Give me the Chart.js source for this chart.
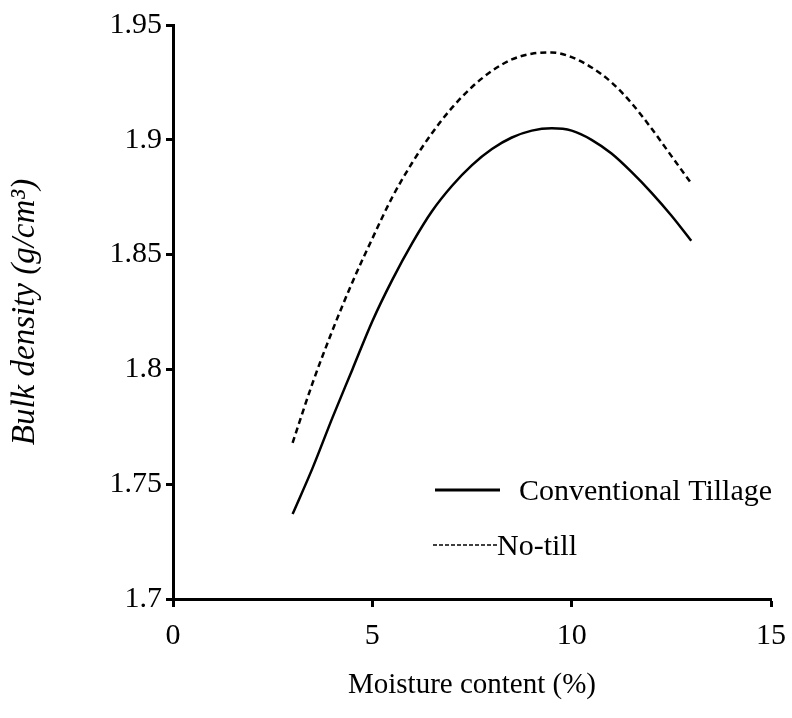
<!DOCTYPE html>
<html>
<head>
<meta charset="utf-8">
<script src="https://cdn.jsdelivr.net/npm/chart.js@4/dist/chart.umd.min.js"></script>
<style>
  html, body { margin: 0; padding: 0; background: #fff; }
  #wrap { width: 792px; height: 718px; }
</style>
</head>
<body>
<div id="wrap"><canvas id="c" width="792" height="718"></canvas></div>
<script>
const moisture = [3, 3.5, 4, 4.5, 5, 5.5, 6, 6.5, 7, 7.5, 8, 8.5, 9, 9.5, 10, 10.5, 11, 11.5, 12, 12.5, 13];
const conventionalTillage = [1.737, 1.757, 1.779, 1.800, 1.821, 1.839, 1.855, 1.869, 1.880, 1.889, 1.896, 1.901, 1.904, 1.905, 1.904, 1.900, 1.894, 1.886, 1.877, 1.867, 1.856];
const noTill = [1.768, 1.794, 1.817, 1.838, 1.857, 1.875, 1.890, 1.903, 1.914, 1.923, 1.930, 1.935, 1.9375, 1.938, 1.936, 1.9315, 1.925, 1.916, 1.905, 1.893, 1.881];
const xTicks = [0, 5, 10, 15];
const yTicks = [1.7, 1.75, 1.8, 1.85, 1.9, 1.95];
const seriesNames = ['Conventional Tillage', 'No-till'];

const SERIF = "'Liberation Serif', 'Times New Roman', Times, serif";

const legendPlugin = {
  id: 'customLegend',
  afterDraw(chart) {
    const ctx = chart.ctx;
    ctx.save();
    ctx.strokeStyle = '#000';
    ctx.lineWidth = 3;
    ctx.setLineDash([]);
    ctx.beginPath(); ctx.moveTo(435, 490); ctx.lineTo(500, 490); ctx.stroke();
    ctx.lineWidth = 1.3;
    ctx.setLineDash([4, 2]);
    ctx.beginPath(); ctx.moveTo(433, 545); ctx.lineTo(497, 545); ctx.stroke();
    ctx.setLineDash([]);
    ctx.fillStyle = '#000';
    ctx.font = '30px ' + SERIF;
    ctx.textBaseline = 'alphabetic';
    ctx.textAlign = 'left';
    ctx.fillText(seriesNames[0], 519, 500);
    ctx.fillText(seriesNames[1], 497, 555);
    ctx.restore();
  }
};

new Chart(document.getElementById('c'), {
  type: 'line',
  data: {
    datasets: [
      {
        label: seriesNames[0],
        data: moisture.map((m, i) => ({ x: m, y: conventionalTillage[i] })),
        borderColor: '#000',
        borderWidth: 2.5,
        pointRadius: 0,
        cubicInterpolationMode: 'monotone',
        fill: false
      },
      {
        label: seriesNames[1],
        data: moisture.map((m, i) => ({ x: m, y: noTill[i] })),
        borderColor: '#000',
        borderWidth: 2.5,
        borderDash: [6, 4],
        pointRadius: 0,
        cubicInterpolationMode: 'monotone',
        fill: false
      }
    ]
  },
  options: {
    responsive: false,
    animation: false,
    layout: { padding: { top: 25, right: 21, left: 0, bottom: 0 } },
    plugins: { legend: { display: false }, tooltip: { enabled: false } },
    scales: {
      x: {
        type: 'linear',
        min: 0, max: 15,
        afterBuildTicks: s => { s.ticks = xTicks.map(v => ({ value: v })); },
        afterFit: s => { s.height = 119; s.paddingLeft = 0; s.paddingRight = 0; },
        border: { color: '#000', width: 3 },
        grid: { display: true, drawOnChartArea: false, drawTicks: true, tickLength: 8, tickColor: '#000', tickWidth: 3 },
        ticks: { color: '#000', font: { family: SERIF, size: 30 }, padding: 11, maxRotation: 0 },
        title: { display: true, text: 'Moisture content (%)', color: '#000', font: { family: SERIF, size: 29 }, padding: { top: 0, bottom: 15 } }
      },
      y: {
        type: 'linear',
        min: 1.7, max: 1.95,
        afterBuildTicks: s => { s.ticks = yTicks.map(v => ({ value: v })); },
        afterFit: s => { s.width = 173; s.paddingTop = 0; s.paddingBottom = 0; },
        border: { color: '#000', width: 3 },
        grid: { display: true, drawOnChartArea: false, drawTicks: true, tickLength: 7, tickColor: '#000', tickWidth: 3 },
        ticks: { color: '#000', font: { family: SERIF, size: 30 }, padding: 4, callback: v => String(+v.toFixed(2)) },
        title: { display: true, text: 'Bulk density (g/cm³)', color: '#000', font: { family: SERIF, size: 33, style: 'italic' }, padding: { top: 6 } }
      }
    }
  },
  plugins: [legendPlugin]
});
</script>
</body>
</html>
